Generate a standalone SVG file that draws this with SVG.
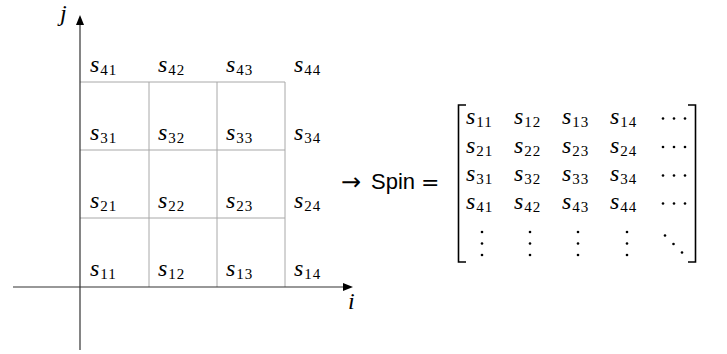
<svg xmlns="http://www.w3.org/2000/svg" width="727" height="354" viewBox="0 0 727 354">
<style>
.v{font-family:"Liberation Serif",serif;font-style:italic;font-size:24px;fill:#000}
.sub{font-style:normal;font-size:15px;letter-spacing:1px}
.ax{stroke:#333;stroke-width:1.2;fill:none}
.grid{stroke:#a8a8a8;stroke-width:1;fill:none}
.br{stroke:#000;stroke-width:1.6;fill:none}
.dot{fill:#000}
.sans{font-family:"Liberation Sans",sans-serif;font-size:22px}
.sym{font-family:"DejaVu Sans",sans-serif;font-size:22px}
</style>
<defs>
<marker id="ah" viewBox="0 0 10 8" refX="0" refY="4" markerWidth="10" markerHeight="8" markerUnits="userSpaceOnUse" orient="auto">
<path d="M0,0 L10,4 L0,8 Z" fill="#000"/>
</marker>
</defs>
<rect width="727" height="354" fill="#fff"/>
<g id="grid">
<path class="grid" d="M80,82 H285 M80,150 H285 M80,218 H285 M149,82 V287 M217,82 V287 M285,82 V287"/>
</g>
<g id="connectors">
<line class="ax" x1="80" y1="350" x2="80" y2="25" marker-end="url(#ah)"/>
<line class="ax" x1="13" y1="287" x2="343" y2="287" marker-end="url(#ah)"/>
</g>
<g id="axis-labels">
<text class="v" x="60" y="21">j</text>
<text class="v" x="348" y="309">i</text>
</g>
<g id="lattice-labels">
<text class="v" x="90" y="72">s<tspan class="sub" dx="1" dy="3">41</tspan></text>
<text class="v" x="158" y="72">s<tspan class="sub" dx="1" dy="3">42</tspan></text>
<text class="v" x="226" y="72">s<tspan class="sub" dx="1" dy="3">43</tspan></text>
<text class="v" x="294" y="72">s<tspan class="sub" dx="1" dy="3">44</tspan></text>
<text class="v" x="90" y="140">s<tspan class="sub" dx="1" dy="3">31</tspan></text>
<text class="v" x="158" y="140">s<tspan class="sub" dx="1" dy="3">32</tspan></text>
<text class="v" x="226" y="140">s<tspan class="sub" dx="1" dy="3">33</tspan></text>
<text class="v" x="294" y="140">s<tspan class="sub" dx="1" dy="3">34</tspan></text>
<text class="v" x="90" y="208">s<tspan class="sub" dx="1" dy="3">21</tspan></text>
<text class="v" x="158" y="208">s<tspan class="sub" dx="1" dy="3">22</tspan></text>
<text class="v" x="226" y="208">s<tspan class="sub" dx="1" dy="3">23</tspan></text>
<text class="v" x="294" y="208">s<tspan class="sub" dx="1" dy="3">24</tspan></text>
<text class="v" x="90" y="276">s<tspan class="sub" dx="1" dy="3">11</tspan></text>
<text class="v" x="158" y="276">s<tspan class="sub" dx="1" dy="3">12</tspan></text>
<text class="v" x="226" y="276">s<tspan class="sub" dx="1" dy="3">13</tspan></text>
<text class="v" x="294" y="276">s<tspan class="sub" dx="1" dy="3">14</tspan></text>
</g>
<g id="equation">
<text class="sym" x="341" y="190" style="font-size:24px">→</text>
<text class="sans" x="371" y="189">Spin</text>
<text class="sym" x="421" y="190">=</text>
</g>
<g id="matrix">
<path class="br" d="M466,105 H458.5 V262 H466"/>
<path class="br" d="M688,105 H695.5 V262 H688"/>
<text class="v" x="466" y="124">s<tspan class="sub" dx="1" dy="3">11</tspan></text>
<text class="v" x="514" y="124">s<tspan class="sub" dx="1" dy="3">12</tspan></text>
<text class="v" x="562" y="124">s<tspan class="sub" dx="1" dy="3">13</tspan></text>
<text class="v" x="610" y="124">s<tspan class="sub" dx="1" dy="3">14</tspan></text>
<text class="v" x="466" y="152.5">s<tspan class="sub" dx="1" dy="3">21</tspan></text>
<text class="v" x="514" y="152.5">s<tspan class="sub" dx="1" dy="3">22</tspan></text>
<text class="v" x="562" y="152.5">s<tspan class="sub" dx="1" dy="3">23</tspan></text>
<text class="v" x="610" y="152.5">s<tspan class="sub" dx="1" dy="3">24</tspan></text>
<text class="v" x="466" y="181">s<tspan class="sub" dx="1" dy="3">31</tspan></text>
<text class="v" x="514" y="181">s<tspan class="sub" dx="1" dy="3">32</tspan></text>
<text class="v" x="562" y="181">s<tspan class="sub" dx="1" dy="3">33</tspan></text>
<text class="v" x="610" y="181">s<tspan class="sub" dx="1" dy="3">34</tspan></text>
<text class="v" x="466" y="209">s<tspan class="sub" dx="1" dy="3">41</tspan></text>
<text class="v" x="514" y="209">s<tspan class="sub" dx="1" dy="3">42</tspan></text>
<text class="v" x="562" y="209">s<tspan class="sub" dx="1" dy="3">43</tspan></text>
<text class="v" x="610" y="209">s<tspan class="sub" dx="1" dy="3">44</tspan></text>
<g class="dot">
<circle cx="663" cy="118.5" r="1.3"/><circle cx="674" cy="118.5" r="1.3"/><circle cx="685" cy="118.5" r="1.3"/>
<circle cx="663" cy="147" r="1.3"/><circle cx="674" cy="147" r="1.3"/><circle cx="685" cy="147" r="1.3"/>
<circle cx="663" cy="175.5" r="1.3"/><circle cx="674" cy="175.5" r="1.3"/><circle cx="685" cy="175.5" r="1.3"/>
<circle cx="663" cy="203.5" r="1.3"/><circle cx="674" cy="203.5" r="1.3"/><circle cx="685" cy="203.5" r="1.3"/>
<circle cx="482" cy="232" r="1.3"/><circle cx="482" cy="243.5" r="1.3"/><circle cx="482" cy="255" r="1.3"/>
<circle cx="530" cy="232" r="1.3"/><circle cx="530" cy="243.5" r="1.3"/><circle cx="530" cy="255" r="1.3"/>
<circle cx="578" cy="232" r="1.3"/><circle cx="578" cy="243.5" r="1.3"/><circle cx="578" cy="255" r="1.3"/>
<circle cx="627" cy="232" r="1.3"/><circle cx="627" cy="243.5" r="1.3"/><circle cx="627" cy="255" r="1.3"/>
<circle cx="665" cy="235.5" r="1.3"/><circle cx="673.5" cy="244" r="1.3"/><circle cx="682" cy="252.5" r="1.3"/>
</g>
</g>
</svg>
